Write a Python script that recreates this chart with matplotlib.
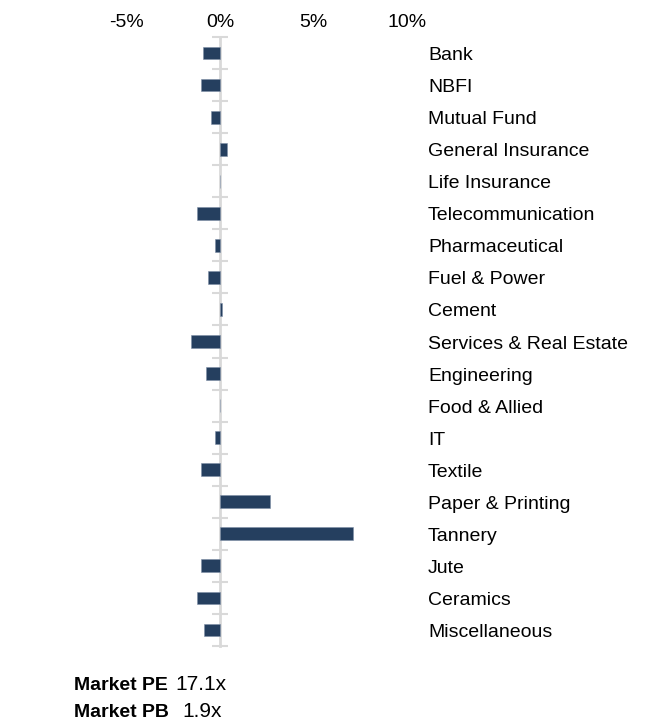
import matplotlib
matplotlib.use("Agg")
import matplotlib.pyplot as plt
import matplotlib.transforms as mtransforms

sectors = [
    "Bank", "NBFI", "Mutual Fund", "General Insurance", "Life Insurance",
    "Telecommunication", "Pharmaceutical", "Fuel & Power", "Cement",
    "Services & Real Estate", "Engineering", "Food & Allied", "IT", "Textile",
    "Paper & Printing", "Tannery", "Jute", "Ceramics", "Miscellaneous",
]
# weekly return, %
returns = [
    -0.94, -1.05, -0.50, 0.35, 0.0,
    -1.25, -0.30, -0.65, 0.08,
    -1.55, -0.75, -0.03, -0.28, -1.05,
    2.65, 7.10, -1.06, -1.24, -0.89,
]
x_ticks = [-5, 0, 5, 10]
market_stats = [("Market PE", "17.1x"), ("Market PB", "1.9x")]

plt.rcParams["font.family"] = ["Liberation Sans", "DejaVu Sans"]
FS = 14

fig = plt.figure(figsize=(6.51, 7.24), dpi=100)
ax = fig.add_axes([127 / 651, 1 - 646 / 724, 280 / 651, 609 / 724])

pos = list(range(len(sectors)))
ax.barh(pos, returns, height=0.4, color="#253f5f", edgecolor="#7f8fa6",
        linewidth=0.4)

ax.set_xlim(-5, 10)
ax.set_ylim(len(sectors) - 0.5, -0.5)

# percent labels on top, no tick marks
ax.xaxis.tick_top()
ax.set_xticks(x_ticks)
ax.set_xticklabels([f"{t}%" for t in x_ticks], fontsize=FS)
ax.tick_params(axis="x", length=0, pad=4)

# zero line with ticks between categories
for side in ["top", "right", "bottom"]:
    ax.spines[side].set_visible(False)
ax.spines["left"].set_position(("data", 0))
ax.spines["left"].set_color("#d9d9d9")
ax.spines["left"].set_linewidth(2)
ax.spines["left"].set_zorder(0)
ax.set_yticks([p - 0.5 for p in pos] + [len(sectors) - 0.5])
ax.set_yticklabels([])
ax.tick_params(axis="y", direction="inout", length=12, width=1.5,
               color="#d9d9d9")

# sector names to the right, baseline a few px below the bar centre
trans = mtransforms.blended_transform_factory(fig.transFigure, ax.transData)
trans = trans + mtransforms.ScaledTranslation(0, -7 / 100, fig.dpi_scale_trans)
for p, name in zip(pos, sectors):
    ax.text(428 / 651, p, name, transform=trans, ha="left", va="baseline",
            fontsize=FS, clip_on=False)

# market multiples
for i, (lab, val) in enumerate(market_stats):
    y = 1 - (690 + 27 * i) / 724
    fig.text(74 / 651, y, lab, fontsize=FS, fontweight="bold", va="baseline")
    fig.text((175 + 7 * i) / 651, y, val, fontsize=15, va="baseline")

fig.savefig("out.png", dpi=100)
